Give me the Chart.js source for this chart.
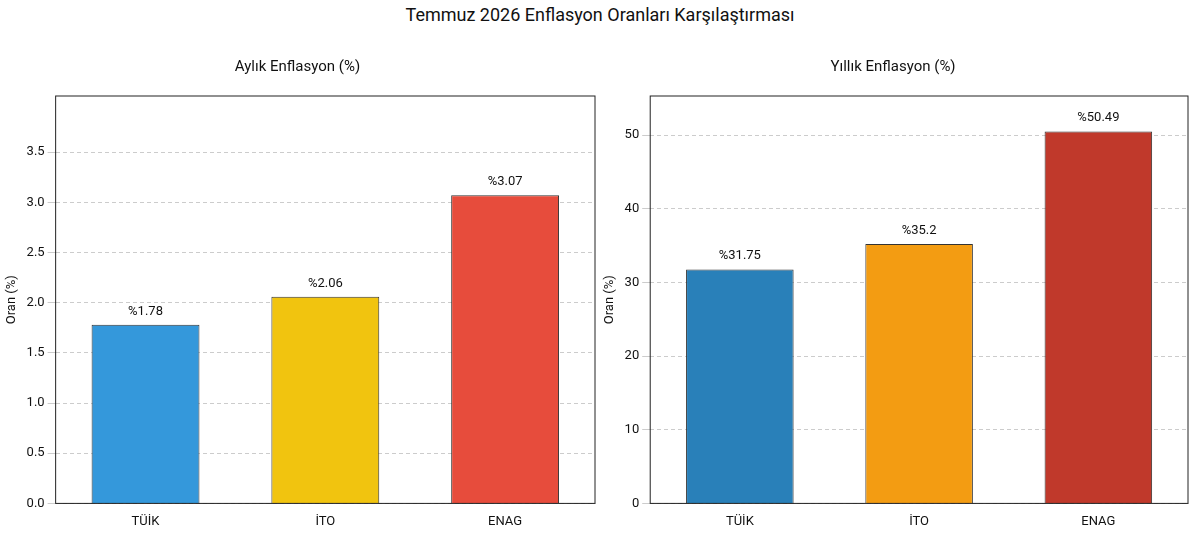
<!DOCTYPE html>
<html><head><meta charset="utf-8">
<script src="https://cdn.jsdelivr.net/npm/chart.js@4"></script>
<style>
body{margin:0;background:#fff;font-family:Roboto,sans-serif;}
#title{position:absolute;top:4px;left:0;width:1200px;text-align:center;font-size:18px;color:#111;}
.box{position:absolute;top:50px;height:483px;}
</style></head><body>
<div id="title">Temmuz 2026 Enflasyon Oranları Karşılaştırması</div>
<div class="box" style="left:0;width:605px"><canvas id="c1"></canvas></div>
<div class="box" style="left:598px;width:600px"><canvas id="c2"></canvas></div>
<script>
const categories = ['TÜİK', 'İTO', 'ENAG'];
const monthlyValues = [1.78, 2.06, 3.07];
const yearlyValues = [31.75, 35.2, 50.49];
const monthlyColors = ['#3498db', '#f1c40f', '#e74c3c'];
const yearlyColors = ['#2980b9', '#f39c12', '#c0392b'];

// Value labels above bars and frame around the plot area
const extras = {
  id: 'extras',
  afterDatasetsDraw(chart) {
    const ctx = chart.ctx;
    const a = chart.chartArea;
    ctx.save();
    ctx.strokeStyle = '#222';
    ctx.lineWidth = 1;
    ctx.strokeRect(a.left, a.top, a.right - a.left, a.bottom - a.top);
    ctx.fillStyle = '#111';
    ctx.font = '13px Roboto';
    ctx.textAlign = 'center';
    const meta = chart.getDatasetMeta(0);
    meta.data.forEach((bar, i) => {
      ctx.fillText('%' + chart.data.datasets[0].data[i], bar.x, bar.y - 10);
    });
    ctx.restore();
  }
};

function makeChart(id, title, values, colors, max, step, decimals) {
  new Chart(document.getElementById(id), {
    type: 'bar',
    data: {
      labels: categories,
      datasets: [{
        data: values,
        backgroundColor: colors,
        borderColor: '#333',
        borderWidth: 1,
        categoryPercentage: 1,
        barPercentage: 0.6
      }]
    },
    options: {
      responsive: true,
      maintainAspectRatio: false,
      animation: false,
      layout: { padding: { right: 10, left: 0, bottom: 0 } },
      plugins: {
        legend: { display: false },
        tooltip: { enabled: false },
        title: { display: true, text: title, color: '#111', font: { size: 15, family: 'Roboto', weight: 'normal' }, padding: { top: 8, bottom: 20 } }
      },
      scales: {
        x: {
          grid: { display: false },
          ticks: { color: '#111', font: { size: 13, family: 'Roboto' } }
        },
        y: {
          min: 0, max: max,
          title: { display: true, text: 'Oran (%)', color: '#111', font: { size: 13, family: 'Roboto' } },
          grid: { color: '#ccc', borderDash: [4, 3] },
          border: { dash: [4, 3], display: false },
          ticks: {
            stepSize: step, color: '#111', font: { size: 13, family: 'Roboto' },
            callback: v => v.toFixed(decimals)
          },
          afterBuildTicks: s => { s.ticks = s.ticks.filter(t => Math.abs(t.value / step - Math.round(t.value / step)) < 1e-6); }
        }
      }
    },
    plugins: [extras]
  });
}

makeChart('c1', 'Aylık Enflasyon (%)', monthlyValues, monthlyColors, 4.06, 0.5, 1);
makeChart('c2', 'Yıllık Enflasyon (%)', yearlyValues, yearlyColors, 55.3, 10, 0);
</script>
</body></html>
